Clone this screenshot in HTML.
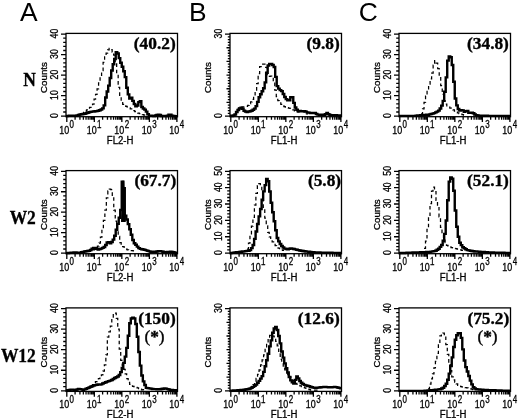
<!DOCTYPE html>
<html><head><meta charset="utf-8"><style>
html,body{margin:0;padding:0;background:#fff;}
svg{display:block;filter:grayscale(1);}
.t{stroke:#000;stroke-width:0.3px;}
.v{stroke:#000;stroke-width:0.35px;}
</style></head><body>
<svg width="520" height="418" viewBox="0 0 520 418">
<rect width="520" height="418" fill="#fff"/>
<text x="20.0" y="21.4" font-family="'Liberation Sans', sans-serif" font-size="26.4">A</text>
<text x="189.0" y="21.4" font-family="'Liberation Sans', sans-serif" font-size="26.4">B</text>
<text x="358.8" y="21.4" font-family="'Liberation Sans', sans-serif" font-size="26.4">C</text>
<text transform="translate(35.8,85.6) scale(0.98,1)" font-family="'Liberation Serif', serif" font-weight="bold" font-size="17.8" stroke="#000" stroke-width="0.3" text-anchor="end">N</text>
<path d="M61 116.1H66M63.2 112H66M63.2 107.9H66M63.2 103.8H66M63.2 99.7H66M61 95.6H66M63.2 91.5H66M63.2 87.4H66M63.2 83.3H66M63.2 79.2H66M61 75.1H66M63.2 71H66M63.2 66.9H66M63.2 62.8H66M63.2 58.7H66M61 54.6H66M63.2 50.5H66M63.2 46.4H66M63.2 42.3H66M63.2 38.2H66M61 34.1H66M66.8 116.7V122M75.09 116.7V119.7M79.93 116.7V119.7M83.37 116.7V119.7M86.04 116.7V119.7M88.22 116.7V119.7M90.06 116.7V119.7M91.66 116.7V119.7M93.07 116.7V119.7M94.33 116.7V122M102.61 116.7V119.7M107.46 116.7V119.7M110.9 116.7V119.7M113.56 116.7V119.7M115.74 116.7V119.7M117.59 116.7V119.7M119.18 116.7V119.7M120.59 116.7V119.7M121.85 116.7V122M130.14 116.7V119.7M134.98 116.7V119.7M138.42 116.7V119.7M141.09 116.7V119.7M143.27 116.7V119.7M145.11 116.7V119.7M146.71 116.7V119.7M148.12 116.7V119.7M149.38 116.7V122M157.66 116.7V119.7M162.51 116.7V119.7M165.95 116.7V119.7M168.61 116.7V119.7M170.79 116.7V119.7M172.64 116.7V119.7M174.23 116.7V119.7M175.64 116.7V119.7M176.9 116.7V122" stroke="#000" stroke-width="1.3" fill="none"/>
<rect x="66" y="33.4" width="111.5" height="83.3" fill="none" stroke="#000" stroke-width="1.3"/>
<text transform="translate(58,115.6) rotate(-90) scale(0.82,1)" font-family="'Liberation Sans', sans-serif" font-size="10.6" text-anchor="middle" class="t">0</text>
<text transform="translate(58,95.1) rotate(-90) scale(0.82,1)" font-family="'Liberation Sans', sans-serif" font-size="10.6" text-anchor="middle" class="t">10</text>
<text transform="translate(58,74.6) rotate(-90) scale(0.82,1)" font-family="'Liberation Sans', sans-serif" font-size="10.6" text-anchor="middle" class="t">20</text>
<text transform="translate(58,54.1) rotate(-90) scale(0.82,1)" font-family="'Liberation Sans', sans-serif" font-size="10.6" text-anchor="middle" class="t">30</text>
<text transform="translate(58,33.6) rotate(-90) scale(0.82,1)" font-family="'Liberation Sans', sans-serif" font-size="10.6" text-anchor="middle" class="t">40</text>
<text transform="translate(46.5,77.55) rotate(-90)" font-family="'Liberation Sans', sans-serif" font-size="9.7" text-anchor="middle" class="t">Counts</text>
<text x="59.2" y="133.5" font-family="'Liberation Sans', sans-serif" font-size="10" textLength="9.9" lengthAdjust="spacingAndGlyphs" class="t">10</text>
<text transform="translate(69.6,127.8) scale(0.8,1)" font-family="'Liberation Sans', sans-serif" font-size="10" class="t">0</text>
<text x="86.72" y="133.5" font-family="'Liberation Sans', sans-serif" font-size="10" textLength="9.9" lengthAdjust="spacingAndGlyphs" class="t">10</text>
<text transform="translate(97.12,127.8) scale(0.8,1)" font-family="'Liberation Sans', sans-serif" font-size="10" class="t">1</text>
<text x="114.25" y="133.5" font-family="'Liberation Sans', sans-serif" font-size="10" textLength="9.9" lengthAdjust="spacingAndGlyphs" class="t">10</text>
<text transform="translate(124.65,127.8) scale(0.8,1)" font-family="'Liberation Sans', sans-serif" font-size="10" class="t">2</text>
<text x="141.78" y="133.5" font-family="'Liberation Sans', sans-serif" font-size="10" textLength="9.9" lengthAdjust="spacingAndGlyphs" class="t">10</text>
<text transform="translate(152.18,127.8) scale(0.8,1)" font-family="'Liberation Sans', sans-serif" font-size="10" class="t">3</text>
<text x="169.3" y="133.5" font-family="'Liberation Sans', sans-serif" font-size="10" textLength="9.9" lengthAdjust="spacingAndGlyphs" class="t">10</text>
<text transform="translate(179.7,127.8) scale(0.8,1)" font-family="'Liberation Sans', sans-serif" font-size="10" class="t">4</text>
<text x="106.85" y="143.5" font-family="'Liberation Sans', sans-serif" font-size="10" textLength="26.6" lengthAdjust="spacingAndGlyphs" class="t">FL2-H</text>
<text transform="translate(175.7,49.3) scale(1.07,1)" font-family="'Liberation Serif', serif" font-weight="bold" font-size="16.2" text-anchor="end" class="v">(40.2)</text>
<path d="M82.00 113.99H83.51V112.49H85.01V111.16H86.52V109.94H88.03V108.72H89.53V107.36H91.04V105.85H92.55V104.21H94.06V99.05H95.56V94.26H97.07V88.84H98.58V82.89H100.08V76.93H101.59V70.73H103.10V62.38H104.60V56.77H106.11V53.04H107.62V49.91H109.13V48.40H110.63V49.54H112.14V52.06H113.65V55.13H115.15V62.78H116.66V73.87H118.17V87.27H119.67V96.28H121.18V101.74H122.69V104.27H124.20V105.72H125.70V106.42H127.21V107.12H128.72V107.81H130.22V108.76H131.73V109.73H133.24V110.70H134.74V111.66H136.25V112.61H137.76V113.22H139.27V113.68H140.77V114.14H142.28V114.59H143.79V115.13H145.29V115.66H146.80" fill="none" stroke="#000" stroke-width="1.25" stroke-dasharray="3.6 2.8"/>
<path d="M66.00 116.05H67.51V115.90H69.01V115.75H70.52V115.60H72.03V115.60H73.53V115.75H75.04V115.82H76.55V115.33H78.05V114.84H79.56V114.51H81.07V114.24H82.57V113.97H84.08V113.70H85.59V113.22H87.09V112.74H88.60V112.25H90.11V111.85H91.61V111.67H93.12V111.49H94.63V111.31H96.14V111.13H97.64V110.81H99.15V110.19H100.66V109.57H102.16V108.36H103.67V105.35H105.18V97.43H106.68V91.55H108.19V85.61H109.70V78.07H111.20V70.51H112.71V64.28H114.22V59.06H115.72V52.10H117.23V53.45H118.74V58.16H120.24V62.78H121.75V66.82H123.26V71.28H124.76V77.09H126.27V87.77H127.78V94.33H129.28V98.55H130.79V97.80H132.30V100.89H133.80V104.00H135.31V106.28H136.82V105.53H138.32V102.13H139.83V101.20H141.34V106.94H142.84V108.44H144.35V109.62H145.86V111.62H147.36V114.28H148.87V115.72H150.38V115.79H151.89V115.86H153.39V115.93H154.90V115.51H156.41V114.98H157.91V114.60H159.42V114.89H160.93V115.95H162.43V116.00H163.94V116.00H165.45V116.00H166.95V115.71H168.46V114.75H169.97V114.60H171.47V115.59H172.98V116.04H174.49V116.09H175.99V116.15H177.50" fill="none" stroke="#000" stroke-width="2.4"/>
<path d="M225 116.1H230M227.8 113.37H230M227.8 110.63H230M227.8 107.9H230M227.8 105.17H230M226.5 102.43H230M227.8 99.7H230M227.8 96.97H230M227.8 94.23H230M227.8 91.5H230M226.5 88.77H230M227.8 86.03H230M227.8 83.3H230M227.8 80.57H230M227.8 77.83H230M226.5 75.1H230M227.8 72.37H230M227.8 69.63H230M227.8 66.9H230M227.8 64.17H230M226.5 61.43H230M227.8 58.7H230M227.8 55.97H230M227.8 53.23H230M227.8 50.5H230M226.5 47.77H230M227.8 45.03H230M227.8 42.3H230M227.8 39.57H230M227.8 36.83H230M225 34.1H230M230.8 116.7V122M239.09 116.7V119.7M243.93 116.7V119.7M247.37 116.7V119.7M250.04 116.7V119.7M252.22 116.7V119.7M254.06 116.7V119.7M255.66 116.7V119.7M257.07 116.7V119.7M258.32 116.7V122M266.61 116.7V119.7M271.46 116.7V119.7M274.9 116.7V119.7M277.56 116.7V119.7M279.74 116.7V119.7M281.59 116.7V119.7M283.18 116.7V119.7M284.59 116.7V119.7M285.85 116.7V122M294.14 116.7V119.7M298.98 116.7V119.7M302.42 116.7V119.7M305.09 116.7V119.7M307.27 116.7V119.7M309.11 116.7V119.7M310.71 116.7V119.7M312.12 116.7V119.7M313.38 116.7V122M321.66 116.7V119.7M326.51 116.7V119.7M329.95 116.7V119.7M332.61 116.7V119.7M334.79 116.7V119.7M336.64 116.7V119.7M338.23 116.7V119.7M339.64 116.7V119.7M340.9 116.7V122" stroke="#000" stroke-width="1.3" fill="none"/>
<rect x="230" y="33.4" width="111.5" height="83.3" fill="none" stroke="#000" stroke-width="1.3"/>
<text transform="translate(222,115.6) rotate(-90) scale(0.82,1)" font-family="'Liberation Sans', sans-serif" font-size="10.6" text-anchor="middle" class="t">0</text>
<text transform="translate(222,33.6) rotate(-90) scale(0.82,1)" font-family="'Liberation Sans', sans-serif" font-size="10.6" text-anchor="middle" class="t">30</text>
<text transform="translate(210.5,77.55) rotate(-90)" font-family="'Liberation Sans', sans-serif" font-size="9.7" text-anchor="middle" class="t">Counts</text>
<text x="223.2" y="133.5" font-family="'Liberation Sans', sans-serif" font-size="10" textLength="9.9" lengthAdjust="spacingAndGlyphs" class="t">10</text>
<text transform="translate(233.6,127.8) scale(0.8,1)" font-family="'Liberation Sans', sans-serif" font-size="10" class="t">0</text>
<text x="250.72" y="133.5" font-family="'Liberation Sans', sans-serif" font-size="10" textLength="9.9" lengthAdjust="spacingAndGlyphs" class="t">10</text>
<text transform="translate(261.12,127.8) scale(0.8,1)" font-family="'Liberation Sans', sans-serif" font-size="10" class="t">1</text>
<text x="278.25" y="133.5" font-family="'Liberation Sans', sans-serif" font-size="10" textLength="9.9" lengthAdjust="spacingAndGlyphs" class="t">10</text>
<text transform="translate(288.65,127.8) scale(0.8,1)" font-family="'Liberation Sans', sans-serif" font-size="10" class="t">2</text>
<text x="305.78" y="133.5" font-family="'Liberation Sans', sans-serif" font-size="10" textLength="9.9" lengthAdjust="spacingAndGlyphs" class="t">10</text>
<text transform="translate(316.18,127.8) scale(0.8,1)" font-family="'Liberation Sans', sans-serif" font-size="10" class="t">3</text>
<text x="333.3" y="133.5" font-family="'Liberation Sans', sans-serif" font-size="10" textLength="9.9" lengthAdjust="spacingAndGlyphs" class="t">10</text>
<text transform="translate(343.7,127.8) scale(0.8,1)" font-family="'Liberation Sans', sans-serif" font-size="10" class="t">4</text>
<text x="270.85" y="143.5" font-family="'Liberation Sans', sans-serif" font-size="10" textLength="26.6" lengthAdjust="spacingAndGlyphs" class="t">FL1-H</text>
<text transform="translate(339.7,49.1) scale(1.07,1)" font-family="'Liberation Serif', serif" font-weight="bold" font-size="16.2" text-anchor="end" class="v">(9.8)</text>
<path d="M237.00 109.43H238.51V108.24H240.02V107.72H241.53V107.19H243.04V106.85H244.55V106.62H246.06V106.38H247.57V105.31H249.09V103.80H250.60V101.76H252.11V99.44H253.62V96.02H255.13V91.51H256.64V83.69H258.15V73.67H259.66V66.66H261.17V64.89H262.68V64.00H264.19V64.00H265.70V67.44H267.21V75.08H268.72V76.42H270.23V76.10H271.74V77.46H273.26V81.32H274.77V90.20H276.28V96.61H277.79V100.74H279.30V102.80H280.81V104.31H282.32V105.55H283.83V106.66H285.34V107.28H286.85V107.68H288.36V108.08H289.87V108.49H291.38V109.12H292.89V109.85H294.40V110.84H295.91V111.94H297.43V112.09H298.94V111.87H300.45V111.45H301.96V111.30H303.47V111.96H304.98V112.99H306.49V113.99H308.00" fill="none" stroke="#000" stroke-width="1.25" stroke-dasharray="3.6 2.8"/>
<path d="M230.00 115.80H231.51V115.95H233.01V115.34H234.52V114.56H236.03V112.07H237.53V110.06H239.04V108.55H240.55V107.80H242.05V108.78H243.56V110.75H245.07V111.53H246.57V111.95H248.08V111.60H249.59V111.20H251.09V110.80H252.60V109.69H254.11V108.58H255.61V106.09H257.12V101.84H258.63V97.23H260.14V94.22H261.64V91.24H263.15V88.29H264.66V82.35H266.16V72.76H267.67V65.49H269.18V64.00H270.68V64.00H272.19V64.94H273.70V66.99H275.20V76.87H276.71V86.15H278.22V88.63H279.72V90.17H281.23V91.15H282.74V94.01H284.24V96.99H285.75V99.17H287.26V100.27H288.76V100.40H290.27V97.25H291.78V97.20H293.28V102.86H294.79V107.47H296.30V109.71H297.80V110.88H299.31V111.06H300.82V111.23H302.32V111.30H303.83V111.30H305.34V111.62H306.84V112.37H308.35V112.66H309.86V112.94H311.36V113.00H312.87V113.00H314.38V113.00H315.89V113.93H317.39V114.63H318.90V114.69H320.41V114.76H321.91V114.82H323.42V114.89H324.93V114.28H326.43V113.00H327.94V114.23H329.45V115.04H330.95V115.10H332.46V115.15H333.97V115.21H335.47V115.27H336.98V115.33H338.49V115.38H339.99V115.44H341.50" fill="none" stroke="#000" stroke-width="2.4"/>
<path d="M394 116.1H399M396.2 112H399M396.2 107.9H399M396.2 103.8H399M396.2 99.7H399M394 95.6H399M396.2 91.5H399M396.2 87.4H399M396.2 83.3H399M396.2 79.2H399M394 75.1H399M396.2 71H399M396.2 66.9H399M396.2 62.8H399M396.2 58.7H399M394 54.6H399M396.2 50.5H399M396.2 46.4H399M396.2 42.3H399M396.2 38.2H399M394 34.1H399M399.8 116.7V122M408.09 116.7V119.7M412.93 116.7V119.7M416.37 116.7V119.7M419.04 116.7V119.7M421.22 116.7V119.7M423.06 116.7V119.7M424.66 116.7V119.7M426.07 116.7V119.7M427.32 116.7V122M435.61 116.7V119.7M440.46 116.7V119.7M443.9 116.7V119.7M446.56 116.7V119.7M448.74 116.7V119.7M450.59 116.7V119.7M452.18 116.7V119.7M453.59 116.7V119.7M454.85 116.7V122M463.14 116.7V119.7M467.98 116.7V119.7M471.42 116.7V119.7M474.09 116.7V119.7M476.27 116.7V119.7M478.11 116.7V119.7M479.71 116.7V119.7M481.12 116.7V119.7M482.38 116.7V122M490.66 116.7V119.7M495.51 116.7V119.7M498.95 116.7V119.7M501.61 116.7V119.7M503.79 116.7V119.7M505.64 116.7V119.7M507.23 116.7V119.7M508.64 116.7V119.7M509.9 116.7V122" stroke="#000" stroke-width="1.3" fill="none"/>
<rect x="399" y="33.4" width="111.5" height="83.3" fill="none" stroke="#000" stroke-width="1.3"/>
<text transform="translate(391,115.6) rotate(-90) scale(0.82,1)" font-family="'Liberation Sans', sans-serif" font-size="10.6" text-anchor="middle" class="t">0</text>
<text transform="translate(391,95.1) rotate(-90) scale(0.82,1)" font-family="'Liberation Sans', sans-serif" font-size="10.6" text-anchor="middle" class="t">10</text>
<text transform="translate(391,74.6) rotate(-90) scale(0.82,1)" font-family="'Liberation Sans', sans-serif" font-size="10.6" text-anchor="middle" class="t">20</text>
<text transform="translate(391,54.1) rotate(-90) scale(0.82,1)" font-family="'Liberation Sans', sans-serif" font-size="10.6" text-anchor="middle" class="t">30</text>
<text transform="translate(391,33.6) rotate(-90) scale(0.82,1)" font-family="'Liberation Sans', sans-serif" font-size="10.6" text-anchor="middle" class="t">40</text>
<text transform="translate(379.5,77.55) rotate(-90)" font-family="'Liberation Sans', sans-serif" font-size="9.7" text-anchor="middle" class="t">Counts</text>
<text x="392.2" y="133.5" font-family="'Liberation Sans', sans-serif" font-size="10" textLength="9.9" lengthAdjust="spacingAndGlyphs" class="t">10</text>
<text transform="translate(402.6,127.8) scale(0.8,1)" font-family="'Liberation Sans', sans-serif" font-size="10" class="t">0</text>
<text x="419.73" y="133.5" font-family="'Liberation Sans', sans-serif" font-size="10" textLength="9.9" lengthAdjust="spacingAndGlyphs" class="t">10</text>
<text transform="translate(430.12,127.8) scale(0.8,1)" font-family="'Liberation Sans', sans-serif" font-size="10" class="t">1</text>
<text x="447.25" y="133.5" font-family="'Liberation Sans', sans-serif" font-size="10" textLength="9.9" lengthAdjust="spacingAndGlyphs" class="t">10</text>
<text transform="translate(457.65,127.8) scale(0.8,1)" font-family="'Liberation Sans', sans-serif" font-size="10" class="t">2</text>
<text x="474.78" y="133.5" font-family="'Liberation Sans', sans-serif" font-size="10" textLength="9.9" lengthAdjust="spacingAndGlyphs" class="t">10</text>
<text transform="translate(485.18,127.8) scale(0.8,1)" font-family="'Liberation Sans', sans-serif" font-size="10" class="t">3</text>
<text x="502.3" y="133.5" font-family="'Liberation Sans', sans-serif" font-size="10" textLength="9.9" lengthAdjust="spacingAndGlyphs" class="t">10</text>
<text transform="translate(512.7,127.8) scale(0.8,1)" font-family="'Liberation Sans', sans-serif" font-size="10" class="t">4</text>
<text x="439.85" y="143.5" font-family="'Liberation Sans', sans-serif" font-size="10" textLength="26.6" lengthAdjust="spacingAndGlyphs" class="t">FL1-H</text>
<text transform="translate(508.9,48.6) scale(1.07,1)" font-family="'Liberation Serif', serif" font-weight="bold" font-size="16.2" text-anchor="end" class="v">(34.8)</text>
<path d="M421.00 113.98H422.52V108.95H424.03V102.25H425.55V96.08H427.07V89.92H428.59V84.11H430.10V78.96H431.62V73.20H433.14V65.19H434.66V60.60H436.17V63.06H437.69V68.59H439.21V76.48H440.72V85.71H442.24V94.40H443.76V100.93H445.28V104.03H446.79V105.97H448.31V107.11H449.83V108.14H451.34V109.07H452.86V109.99H454.38V111.06H455.90V112.16H457.41V112.97H458.93V113.57H460.45V114.18H461.97V114.62H463.48V115.06H465.00" fill="none" stroke="#000" stroke-width="1.25" stroke-dasharray="3.6 2.8"/>
<path d="M399.00 115.90H400.51V115.90H402.01V115.90H403.52V115.90H405.03V115.90H406.53V115.90H408.04V115.90H409.55V115.90H411.05V115.90H412.56V115.90H414.07V115.85H415.57V115.71H417.08V115.57H418.59V115.43H420.09V115.29H421.60V115.16H423.11V115.02H424.61V114.92H426.12V114.82H427.63V114.73H429.14V114.42H430.64V114.02H432.15V113.62H433.66V113.08H435.16V112.34H436.67V111.60H438.18V110.61H439.68V108.54H441.19V105.59H442.70V100.85H444.20V91.77H445.71V77.40H447.22V60.58H448.72V56.50H450.23V57.19H451.74V64.96H453.24V81.80H454.75V98.55H456.26V105.37H457.76V108.98H459.27V110.55H460.78V110.20H462.28V110.33H463.79V111.85H465.30V111.10H466.80V111.00H468.31V112.85H469.82V112.74H471.32V112.60H472.83V113.32H474.34V114.49H475.84V115.14H477.35V115.38H478.86V115.62H480.36V115.80H481.87V115.81H483.38V115.81H484.89V115.82H486.39V115.82H487.90V115.83H489.41V115.83H490.91V115.84H492.42V115.84H493.93V115.85H495.43V115.85H496.94V115.86H498.45V115.86H499.95V115.87H501.46V115.87H502.97V115.88H504.47V115.88H505.98V115.89H507.49V115.89H508.99V115.90H510.50" fill="none" stroke="#000" stroke-width="2.4"/>
<text transform="translate(35.8,223.9) scale(0.98,1)" font-family="'Liberation Serif', serif" font-weight="bold" font-size="17.8" stroke="#000" stroke-width="0.3" text-anchor="end">W2</text>
<path d="M61 253.1H66M63.2 249.01H66M63.2 244.92H66M63.2 240.83H66M63.2 236.74H66M61 232.65H66M63.2 228.56H66M63.2 224.47H66M63.2 220.38H66M63.2 216.29H66M61 212.2H66M63.2 208.11H66M63.2 204.02H66M63.2 199.93H66M63.2 195.84H66M61 191.75H66M63.2 187.66H66M63.2 183.57H66M63.2 179.48H66M63.2 175.39H66M61 171.3H66M66.8 253.7V259M75.09 253.7V256.7M79.93 253.7V256.7M83.37 253.7V256.7M86.04 253.7V256.7M88.22 253.7V256.7M90.06 253.7V256.7M91.66 253.7V256.7M93.07 253.7V256.7M94.33 253.7V259M102.61 253.7V256.7M107.46 253.7V256.7M110.9 253.7V256.7M113.56 253.7V256.7M115.74 253.7V256.7M117.59 253.7V256.7M119.18 253.7V256.7M120.59 253.7V256.7M121.85 253.7V259M130.14 253.7V256.7M134.98 253.7V256.7M138.42 253.7V256.7M141.09 253.7V256.7M143.27 253.7V256.7M145.11 253.7V256.7M146.71 253.7V256.7M148.12 253.7V256.7M149.38 253.7V259M157.66 253.7V256.7M162.51 253.7V256.7M165.95 253.7V256.7M168.61 253.7V256.7M170.79 253.7V256.7M172.64 253.7V256.7M174.23 253.7V256.7M175.64 253.7V256.7M176.9 253.7V259" stroke="#000" stroke-width="1.3" fill="none"/>
<rect x="66" y="170.6" width="111.5" height="83.1" fill="none" stroke="#000" stroke-width="1.3"/>
<text transform="translate(58,252.6) rotate(-90) scale(0.82,1)" font-family="'Liberation Sans', sans-serif" font-size="10.6" text-anchor="middle" class="t">0</text>
<text transform="translate(58,232.15) rotate(-90) scale(0.82,1)" font-family="'Liberation Sans', sans-serif" font-size="10.6" text-anchor="middle" class="t">10</text>
<text transform="translate(58,211.7) rotate(-90) scale(0.82,1)" font-family="'Liberation Sans', sans-serif" font-size="10.6" text-anchor="middle" class="t">20</text>
<text transform="translate(58,191.25) rotate(-90) scale(0.82,1)" font-family="'Liberation Sans', sans-serif" font-size="10.6" text-anchor="middle" class="t">30</text>
<text transform="translate(58,170.8) rotate(-90) scale(0.82,1)" font-family="'Liberation Sans', sans-serif" font-size="10.6" text-anchor="middle" class="t">40</text>
<text transform="translate(46.5,214.65) rotate(-90)" font-family="'Liberation Sans', sans-serif" font-size="9.7" text-anchor="middle" class="t">Counts</text>
<text x="59.2" y="270.5" font-family="'Liberation Sans', sans-serif" font-size="10" textLength="9.9" lengthAdjust="spacingAndGlyphs" class="t">10</text>
<text transform="translate(69.6,264.8) scale(0.8,1)" font-family="'Liberation Sans', sans-serif" font-size="10" class="t">0</text>
<text x="86.72" y="270.5" font-family="'Liberation Sans', sans-serif" font-size="10" textLength="9.9" lengthAdjust="spacingAndGlyphs" class="t">10</text>
<text transform="translate(97.12,264.8) scale(0.8,1)" font-family="'Liberation Sans', sans-serif" font-size="10" class="t">1</text>
<text x="114.25" y="270.5" font-family="'Liberation Sans', sans-serif" font-size="10" textLength="9.9" lengthAdjust="spacingAndGlyphs" class="t">10</text>
<text transform="translate(124.65,264.8) scale(0.8,1)" font-family="'Liberation Sans', sans-serif" font-size="10" class="t">2</text>
<text x="141.78" y="270.5" font-family="'Liberation Sans', sans-serif" font-size="10" textLength="9.9" lengthAdjust="spacingAndGlyphs" class="t">10</text>
<text transform="translate(152.18,264.8) scale(0.8,1)" font-family="'Liberation Sans', sans-serif" font-size="10" class="t">3</text>
<text x="169.3" y="270.5" font-family="'Liberation Sans', sans-serif" font-size="10" textLength="9.9" lengthAdjust="spacingAndGlyphs" class="t">10</text>
<text transform="translate(179.7,264.8) scale(0.8,1)" font-family="'Liberation Sans', sans-serif" font-size="10" class="t">4</text>
<text x="106.85" y="280.5" font-family="'Liberation Sans', sans-serif" font-size="10" textLength="26.6" lengthAdjust="spacingAndGlyphs" class="t">FL2-H</text>
<text transform="translate(176.3,186.3) scale(1.07,1)" font-family="'Liberation Serif', serif" font-weight="bold" font-size="16.2" text-anchor="end" class="v">(67.7)</text>
<polygon points="121,222 121.4,205 121.8,192 122,180.8 124.2,180.8 124.6,192 125.2,205 125.8,222" fill="#000"/>
<path d="M93.00 249.98H94.48V248.96H95.97V247.55H97.45V246.07H98.93V243.07H100.41V237.10H101.90V229.44H103.38V220.48H104.86V210.09H106.34V197.86H107.83V190.87H109.31V189.20H110.79V189.60H112.28V197.07H113.76V210.19H115.24V221.16H116.72V230.30H118.21V236.40H119.69V242.68H121.17V244.99H122.66V246.54H124.14V248.12H125.62V249.06H127.10V249.80H128.59V250.54H130.07V250.70H131.55V250.70H133.03V250.96H134.52V251.48H136.00" fill="none" stroke="#000" stroke-width="1.25" stroke-dasharray="3.6 2.8"/>
<path d="M66.00 253.08H67.51V252.97H69.01V252.85H70.52V252.73H72.03V252.61H73.53V252.50H75.04V252.50H76.55V252.65H78.05V252.81H79.56V252.70H81.07V252.28H82.57V251.86H84.08V251.51H85.59V251.26H87.09V251.02H88.60V250.78H90.11V249.93H91.61V248.79H93.12V247.90H94.63V248.06H96.14V248.79H97.64V249.43H99.15V249.07H100.66V248.61H102.16V247.84H103.67V247.07H105.18V244.96H106.68V242.48H108.19V242.30H109.70V243.20H111.20V241.97H112.71V239.59H114.22V235.71H115.72V229.76H117.23V223.87H118.74V217.80H120.24V210.07H121.75V181.70H123.26V188.08H124.76V215.67H126.27V219.51H127.78V224.15H129.28V229.24H130.79V234.82H132.30V239.98H133.80V243.30H135.31V244.81H136.82V246.65H138.32V248.15H139.83V248.87H141.34V249.23H142.84V249.50H144.35V249.91H145.86V250.40H147.36V250.89H148.87V251.39H150.38V251.80H151.89V251.80H153.39V251.80H154.90V251.71H156.41V251.51H157.91V251.30H159.42V251.20H160.93V251.40H162.43V251.81H163.94V252.22H165.45V252.19H166.95V252.05H168.46V251.92H169.97V251.80H171.47V251.84H172.98V252.21H174.49V252.58H175.99V252.91H177.50" fill="none" stroke="#000" stroke-width="2.4"/>
<path d="M225 253.1H230M227.2 249.83H230M227.2 246.56H230M227.2 243.28H230M227.2 240.01H230M225 236.74H230M227.2 233.47H230M227.2 230.2H230M227.2 226.92H230M227.2 223.65H230M225 220.38H230M227.2 217.11H230M227.2 213.84H230M227.2 210.56H230M227.2 207.29H230M225 204.02H230M227.2 200.75H230M227.2 197.48H230M227.2 194.2H230M227.2 190.93H230M225 187.66H230M227.2 184.39H230M227.2 181.12H230M227.2 177.84H230M227.2 174.57H230M225 171.3H230M230.8 253.7V259M239.09 253.7V256.7M243.93 253.7V256.7M247.37 253.7V256.7M250.04 253.7V256.7M252.22 253.7V256.7M254.06 253.7V256.7M255.66 253.7V256.7M257.07 253.7V256.7M258.32 253.7V259M266.61 253.7V256.7M271.46 253.7V256.7M274.9 253.7V256.7M277.56 253.7V256.7M279.74 253.7V256.7M281.59 253.7V256.7M283.18 253.7V256.7M284.59 253.7V256.7M285.85 253.7V259M294.14 253.7V256.7M298.98 253.7V256.7M302.42 253.7V256.7M305.09 253.7V256.7M307.27 253.7V256.7M309.11 253.7V256.7M310.71 253.7V256.7M312.12 253.7V256.7M313.38 253.7V259M321.66 253.7V256.7M326.51 253.7V256.7M329.95 253.7V256.7M332.61 253.7V256.7M334.79 253.7V256.7M336.64 253.7V256.7M338.23 253.7V256.7M339.64 253.7V256.7M340.9 253.7V259" stroke="#000" stroke-width="1.3" fill="none"/>
<rect x="230" y="170.6" width="111.5" height="83.1" fill="none" stroke="#000" stroke-width="1.3"/>
<text transform="translate(222,252.6) rotate(-90) scale(0.82,1)" font-family="'Liberation Sans', sans-serif" font-size="10.6" text-anchor="middle" class="t">0</text>
<text transform="translate(222,236.24) rotate(-90) scale(0.82,1)" font-family="'Liberation Sans', sans-serif" font-size="10.6" text-anchor="middle" class="t">10</text>
<text transform="translate(222,219.88) rotate(-90) scale(0.82,1)" font-family="'Liberation Sans', sans-serif" font-size="10.6" text-anchor="middle" class="t">20</text>
<text transform="translate(222,203.52) rotate(-90) scale(0.82,1)" font-family="'Liberation Sans', sans-serif" font-size="10.6" text-anchor="middle" class="t">30</text>
<text transform="translate(222,187.16) rotate(-90) scale(0.82,1)" font-family="'Liberation Sans', sans-serif" font-size="10.6" text-anchor="middle" class="t">40</text>
<text transform="translate(222,170.8) rotate(-90) scale(0.82,1)" font-family="'Liberation Sans', sans-serif" font-size="10.6" text-anchor="middle" class="t">50</text>
<text transform="translate(210.5,214.65) rotate(-90)" font-family="'Liberation Sans', sans-serif" font-size="9.7" text-anchor="middle" class="t">Counts</text>
<text x="223.2" y="270.5" font-family="'Liberation Sans', sans-serif" font-size="10" textLength="9.9" lengthAdjust="spacingAndGlyphs" class="t">10</text>
<text transform="translate(233.6,264.8) scale(0.8,1)" font-family="'Liberation Sans', sans-serif" font-size="10" class="t">0</text>
<text x="250.72" y="270.5" font-family="'Liberation Sans', sans-serif" font-size="10" textLength="9.9" lengthAdjust="spacingAndGlyphs" class="t">10</text>
<text transform="translate(261.12,264.8) scale(0.8,1)" font-family="'Liberation Sans', sans-serif" font-size="10" class="t">1</text>
<text x="278.25" y="270.5" font-family="'Liberation Sans', sans-serif" font-size="10" textLength="9.9" lengthAdjust="spacingAndGlyphs" class="t">10</text>
<text transform="translate(288.65,264.8) scale(0.8,1)" font-family="'Liberation Sans', sans-serif" font-size="10" class="t">2</text>
<text x="305.78" y="270.5" font-family="'Liberation Sans', sans-serif" font-size="10" textLength="9.9" lengthAdjust="spacingAndGlyphs" class="t">10</text>
<text transform="translate(316.18,264.8) scale(0.8,1)" font-family="'Liberation Sans', sans-serif" font-size="10" class="t">3</text>
<text x="333.3" y="270.5" font-family="'Liberation Sans', sans-serif" font-size="10" textLength="9.9" lengthAdjust="spacingAndGlyphs" class="t">10</text>
<text transform="translate(343.7,264.8) scale(0.8,1)" font-family="'Liberation Sans', sans-serif" font-size="10" class="t">4</text>
<text x="270.85" y="280.5" font-family="'Liberation Sans', sans-serif" font-size="10" textLength="26.6" lengthAdjust="spacingAndGlyphs" class="t">FL1-H</text>
<text transform="translate(341.1,186.3) scale(1.07,1)" font-family="'Liberation Serif', serif" font-weight="bold" font-size="16.2" text-anchor="end" class="v">(5.8)</text>
<path d="M247.00 249.16H248.48V243.14H249.96V234.99H251.44V226.01H252.92V217.35H254.40V205.07H255.88V193.44H257.36V185.61H258.84V183.70H260.32V185.67H261.80V191.86H263.28V208.45H264.76V218.10H266.24V225.96H267.72V232.38H269.20V236.90H270.68V239.40H272.16V241.87H273.64V243.70H275.12V245.52H276.60V247.06H278.08V248.19H279.56V249.32H281.04V249.94H282.52V250.47H284.00" fill="none" stroke="#000" stroke-width="1.25" stroke-dasharray="3.6 2.8"/>
<path d="M230.00 253.02H231.51V252.84H233.01V252.66H234.52V252.48H236.03V252.30H237.53V252.12H239.04V251.93H240.55V251.75H242.05V251.57H243.56V251.39H245.07V251.16H246.57V250.92H248.08V250.69H249.59V250.10H251.09V248.08H252.60V244.95H254.11V238.83H255.61V231.52H257.12V223.95H258.63V216.42H260.14V208.93H261.64V199.73H263.15V191.41H264.66V185.16H266.16V178.90H267.67V181.28H269.18V191.46H270.68V202.77H272.19V212.32H273.70V221.24H275.20V230.23H276.71V237.93H278.22V241.40H279.72V243.96H281.23V246.03H282.74V247.54H284.24V248.64H285.75V249.03H287.26V249.19H288.76V248.80H290.27V248.50H291.78V248.60H293.28V248.98H294.79V249.37H296.30V249.76H297.80V250.14H299.31V250.52H300.82V250.75H302.32V250.98H303.83V251.22H305.34V251.44H306.84V251.60H308.35V251.77H309.86V251.93H311.36V252.10H312.87V252.27H314.38V252.43H315.89V252.52H317.39V252.55H318.90V252.57H320.41V252.60H321.91V252.63H323.42V252.66H324.93V252.69H326.43V252.72H327.94V252.74H329.45V252.77H330.95V252.80H332.46V252.83H333.97V252.86H335.47V252.89H336.98V252.91H338.49V252.94H339.99V252.97H341.50" fill="none" stroke="#000" stroke-width="2.4"/>
<path d="M394 253.1H399M396.2 249.83H399M396.2 246.56H399M396.2 243.28H399M396.2 240.01H399M394 236.74H399M396.2 233.47H399M396.2 230.2H399M396.2 226.92H399M396.2 223.65H399M394 220.38H399M396.2 217.11H399M396.2 213.84H399M396.2 210.56H399M396.2 207.29H399M394 204.02H399M396.2 200.75H399M396.2 197.48H399M396.2 194.2H399M396.2 190.93H399M394 187.66H399M396.2 184.39H399M396.2 181.12H399M396.2 177.84H399M396.2 174.57H399M394 171.3H399M399.8 253.7V259M408.09 253.7V256.7M412.93 253.7V256.7M416.37 253.7V256.7M419.04 253.7V256.7M421.22 253.7V256.7M423.06 253.7V256.7M424.66 253.7V256.7M426.07 253.7V256.7M427.32 253.7V259M435.61 253.7V256.7M440.46 253.7V256.7M443.9 253.7V256.7M446.56 253.7V256.7M448.74 253.7V256.7M450.59 253.7V256.7M452.18 253.7V256.7M453.59 253.7V256.7M454.85 253.7V259M463.14 253.7V256.7M467.98 253.7V256.7M471.42 253.7V256.7M474.09 253.7V256.7M476.27 253.7V256.7M478.11 253.7V256.7M479.71 253.7V256.7M481.12 253.7V256.7M482.38 253.7V259M490.66 253.7V256.7M495.51 253.7V256.7M498.95 253.7V256.7M501.61 253.7V256.7M503.79 253.7V256.7M505.64 253.7V256.7M507.23 253.7V256.7M508.64 253.7V256.7M509.9 253.7V259" stroke="#000" stroke-width="1.3" fill="none"/>
<rect x="399" y="170.6" width="111.5" height="83.1" fill="none" stroke="#000" stroke-width="1.3"/>
<text transform="translate(391,252.6) rotate(-90) scale(0.82,1)" font-family="'Liberation Sans', sans-serif" font-size="10.6" text-anchor="middle" class="t">0</text>
<text transform="translate(391,236.24) rotate(-90) scale(0.82,1)" font-family="'Liberation Sans', sans-serif" font-size="10.6" text-anchor="middle" class="t">10</text>
<text transform="translate(391,219.88) rotate(-90) scale(0.82,1)" font-family="'Liberation Sans', sans-serif" font-size="10.6" text-anchor="middle" class="t">20</text>
<text transform="translate(391,203.52) rotate(-90) scale(0.82,1)" font-family="'Liberation Sans', sans-serif" font-size="10.6" text-anchor="middle" class="t">30</text>
<text transform="translate(391,187.16) rotate(-90) scale(0.82,1)" font-family="'Liberation Sans', sans-serif" font-size="10.6" text-anchor="middle" class="t">40</text>
<text transform="translate(391,170.8) rotate(-90) scale(0.82,1)" font-family="'Liberation Sans', sans-serif" font-size="10.6" text-anchor="middle" class="t">50</text>
<text transform="translate(379.5,214.65) rotate(-90)" font-family="'Liberation Sans', sans-serif" font-size="9.7" text-anchor="middle" class="t">Counts</text>
<text x="392.2" y="270.5" font-family="'Liberation Sans', sans-serif" font-size="10" textLength="9.9" lengthAdjust="spacingAndGlyphs" class="t">10</text>
<text transform="translate(402.6,264.8) scale(0.8,1)" font-family="'Liberation Sans', sans-serif" font-size="10" class="t">0</text>
<text x="419.73" y="270.5" font-family="'Liberation Sans', sans-serif" font-size="10" textLength="9.9" lengthAdjust="spacingAndGlyphs" class="t">10</text>
<text transform="translate(430.12,264.8) scale(0.8,1)" font-family="'Liberation Sans', sans-serif" font-size="10" class="t">1</text>
<text x="447.25" y="270.5" font-family="'Liberation Sans', sans-serif" font-size="10" textLength="9.9" lengthAdjust="spacingAndGlyphs" class="t">10</text>
<text transform="translate(457.65,264.8) scale(0.8,1)" font-family="'Liberation Sans', sans-serif" font-size="10" class="t">2</text>
<text x="474.78" y="270.5" font-family="'Liberation Sans', sans-serif" font-size="10" textLength="9.9" lengthAdjust="spacingAndGlyphs" class="t">10</text>
<text transform="translate(485.18,264.8) scale(0.8,1)" font-family="'Liberation Sans', sans-serif" font-size="10" class="t">3</text>
<text x="502.3" y="270.5" font-family="'Liberation Sans', sans-serif" font-size="10" textLength="9.9" lengthAdjust="spacingAndGlyphs" class="t">10</text>
<text transform="translate(512.7,264.8) scale(0.8,1)" font-family="'Liberation Sans', sans-serif" font-size="10" class="t">4</text>
<text x="439.85" y="280.5" font-family="'Liberation Sans', sans-serif" font-size="10" textLength="26.6" lengthAdjust="spacingAndGlyphs" class="t">FL1-H</text>
<text transform="translate(508.9,186.3) scale(1.07,1)" font-family="'Liberation Serif', serif" font-weight="bold" font-size="16.2" text-anchor="end" class="v">(52.1)</text>
<path d="M424.00 248.40H425.50V241.10H427.00V229.30H428.50V216.74H430.00V203.60H431.50V191.11H433.00V187.20H434.50V191.50H436.00V200.36H437.50V207.63H439.00V216.76H440.50V227.35H442.00V234.21H443.50V238.93H445.00V242.66H446.50V245.45H448.00V246.18H449.50V246.91H451.00V247.58H452.50V247.96H454.00V248.34H455.50V248.73H457.00V249.11H458.50V249.50H460.00V249.95H461.50V250.47H463.00" fill="none" stroke="#000" stroke-width="1.25" stroke-dasharray="3.6 2.8"/>
<path d="M399.00 253.14H400.51V253.07H402.01V253.01H403.52V252.95H405.03V252.88H406.53V252.82H408.04V252.76H409.55V252.69H411.05V252.63H412.56V252.57H414.07V252.50H415.57V252.44H417.08V252.38H418.59V252.34H420.09V252.30H421.60V252.25H423.11V252.21H424.61V252.13H426.12V252.03H427.63V251.94H429.14V251.84H430.64V251.64H432.15V251.36H433.66V251.08H435.16V250.81H436.67V249.79H438.18V248.75H439.68V246.92H441.19V244.96H442.70V240.72H444.20V233.85H445.71V220.49H447.22V200.25H448.72V181.62H450.23V177.50H451.74V178.81H453.24V190.69H454.75V210.53H456.26V226.76H457.76V236.80H459.27V242.69H460.78V245.11H462.28V247.20H463.79V248.28H465.30V249.19H466.80V250.10H468.31V250.40H469.82V250.70H471.32V251.00H472.83V251.31H474.34V251.47H475.84V251.57H477.35V251.67H478.86V251.77H480.36V251.87H481.87V251.96H483.38V252.06H484.89V252.16H486.39V252.26H487.90V252.36H489.41V252.46H490.91V252.52H492.42V252.56H493.93V252.60H495.43V252.63H496.94V252.67H498.45V252.71H499.95V252.74H501.46V252.78H502.97V252.82H504.47V252.85H505.98V252.89H507.49V252.93H508.99V252.96H510.50" fill="none" stroke="#000" stroke-width="2.4"/>
<text transform="translate(35.8,361.9) scale(0.98,1)" font-family="'Liberation Serif', serif" font-weight="bold" font-size="17.8" stroke="#000" stroke-width="0.3" text-anchor="end">W12</text>
<path d="M61 390.8H66M63.2 386.69H66M63.2 382.58H66M63.2 378.47H66M63.2 374.36H66M61 370.25H66M63.2 366.14H66M63.2 362.03H66M63.2 357.92H66M63.2 353.81H66M61 349.7H66M63.2 345.59H66M63.2 341.48H66M63.2 337.37H66M63.2 333.26H66M61 329.15H66M63.2 325.04H66M63.2 320.93H66M63.2 316.82H66M63.2 312.71H66M61 308.6H66M66.8 391.4V396.7M75.09 391.4V394.4M79.93 391.4V394.4M83.37 391.4V394.4M86.04 391.4V394.4M88.22 391.4V394.4M90.06 391.4V394.4M91.66 391.4V394.4M93.07 391.4V394.4M94.33 391.4V396.7M102.61 391.4V394.4M107.46 391.4V394.4M110.9 391.4V394.4M113.56 391.4V394.4M115.74 391.4V394.4M117.59 391.4V394.4M119.18 391.4V394.4M120.59 391.4V394.4M121.85 391.4V396.7M130.14 391.4V394.4M134.98 391.4V394.4M138.42 391.4V394.4M141.09 391.4V394.4M143.27 391.4V394.4M145.11 391.4V394.4M146.71 391.4V394.4M148.12 391.4V394.4M149.38 391.4V396.7M157.66 391.4V394.4M162.51 391.4V394.4M165.95 391.4V394.4M168.61 391.4V394.4M170.79 391.4V394.4M172.64 391.4V394.4M174.23 391.4V394.4M175.64 391.4V394.4M176.9 391.4V396.7" stroke="#000" stroke-width="1.3" fill="none"/>
<rect x="66" y="307.9" width="111.5" height="83.5" fill="none" stroke="#000" stroke-width="1.3"/>
<text transform="translate(58,390.3) rotate(-90) scale(0.82,1)" font-family="'Liberation Sans', sans-serif" font-size="10.6" text-anchor="middle" class="t">0</text>
<text transform="translate(58,369.75) rotate(-90) scale(0.82,1)" font-family="'Liberation Sans', sans-serif" font-size="10.6" text-anchor="middle" class="t">10</text>
<text transform="translate(58,349.2) rotate(-90) scale(0.82,1)" font-family="'Liberation Sans', sans-serif" font-size="10.6" text-anchor="middle" class="t">20</text>
<text transform="translate(58,328.65) rotate(-90) scale(0.82,1)" font-family="'Liberation Sans', sans-serif" font-size="10.6" text-anchor="middle" class="t">30</text>
<text transform="translate(58,308.1) rotate(-90) scale(0.82,1)" font-family="'Liberation Sans', sans-serif" font-size="10.6" text-anchor="middle" class="t">40</text>
<text transform="translate(46.5,352.15) rotate(-90)" font-family="'Liberation Sans', sans-serif" font-size="9.7" text-anchor="middle" class="t">Counts</text>
<text x="59.2" y="408.2" font-family="'Liberation Sans', sans-serif" font-size="10" textLength="9.9" lengthAdjust="spacingAndGlyphs" class="t">10</text>
<text transform="translate(69.6,402.5) scale(0.8,1)" font-family="'Liberation Sans', sans-serif" font-size="10" class="t">0</text>
<text x="86.72" y="408.2" font-family="'Liberation Sans', sans-serif" font-size="10" textLength="9.9" lengthAdjust="spacingAndGlyphs" class="t">10</text>
<text transform="translate(97.12,402.5) scale(0.8,1)" font-family="'Liberation Sans', sans-serif" font-size="10" class="t">1</text>
<text x="114.25" y="408.2" font-family="'Liberation Sans', sans-serif" font-size="10" textLength="9.9" lengthAdjust="spacingAndGlyphs" class="t">10</text>
<text transform="translate(124.65,402.5) scale(0.8,1)" font-family="'Liberation Sans', sans-serif" font-size="10" class="t">2</text>
<text x="141.78" y="408.2" font-family="'Liberation Sans', sans-serif" font-size="10" textLength="9.9" lengthAdjust="spacingAndGlyphs" class="t">10</text>
<text transform="translate(152.18,402.5) scale(0.8,1)" font-family="'Liberation Sans', sans-serif" font-size="10" class="t">3</text>
<text x="169.3" y="408.2" font-family="'Liberation Sans', sans-serif" font-size="10" textLength="9.9" lengthAdjust="spacingAndGlyphs" class="t">10</text>
<text transform="translate(179.7,402.5) scale(0.8,1)" font-family="'Liberation Sans', sans-serif" font-size="10" class="t">4</text>
<text x="106.85" y="418.2" font-family="'Liberation Sans', sans-serif" font-size="10" textLength="26.6" lengthAdjust="spacingAndGlyphs" class="t">FL2-H</text>
<text transform="translate(175.7,323.6) scale(1.07,1)" font-family="'Liberation Serif', serif" font-weight="bold" font-size="16.2" text-anchor="end" class="v">(150)</text>
<text transform="translate(154.5,342.2) scale(1.07,1)" font-family="'Liberation Serif', serif" font-size="16.2" text-anchor="middle" class="v">(<tspan font-weight="bold">*</tspan>)</text>
<path d="M88.00 388.40H89.49V387.31H90.97V386.05H92.46V384.60H93.95V383.15H95.44V381.68H96.92V380.19H98.41V378.70H99.90V376.91H101.38V374.91H102.87V371.10H104.36V364.89H105.85V354.85H107.33V337.20H108.82V331.95H110.31V326.05H111.79V317.84H113.28V313.66H114.77V313.00H116.26V318.32H117.74V329.10H119.23V349.16H120.72V360.38H122.21V365.66H123.69V369.48H125.18V373.80H126.67V378.66H128.15V382.31H129.64V384.31H131.13V385.78H132.62V386.28H134.10V386.79H135.59V387.29H137.08V387.79H138.56V388.52H140.05V389.24H141.54V389.76H143.03V389.63H144.51V389.50H146.00" fill="none" stroke="#000" stroke-width="1.25" stroke-dasharray="3.6 2.8"/>
<path d="M66.00 390.35H67.51V390.10H69.01V389.85H70.52V389.60H72.03V389.61H73.53V389.91H75.04V390.14H76.55V389.44H78.05V389.00H79.56V389.11H81.07V389.41H82.57V389.71H84.08V389.36H85.59V388.76H87.09V388.11H88.60V387.45H90.11V386.78H91.61V386.20H93.12V385.64H94.63V385.16H96.14V384.70H97.64V384.50H99.15V384.66H100.66V384.35H102.16V383.52H103.67V382.86H105.18V382.24H106.68V381.65H108.19V381.10H109.70V380.58H111.20V379.93H112.71V378.94H114.22V377.99H115.72V377.22H117.23V376.44H118.74V375.03H120.24V372.09H121.75V367.94H123.26V362.87H124.76V356.62H126.27V347.84H127.78V335.71H129.28V323.27H130.79V318.50H132.30V317.80H133.80V318.39H135.31V324.04H136.82V336.73H138.32V351.94H139.83V365.63H141.34V375.51H142.84V381.40H144.35V385.00H145.86V387.83H147.36V388.11H148.87V388.39H150.38V388.66H151.89V388.94H153.39V389.08H154.90V389.17H156.41V389.27H157.91V389.37H159.42V389.31H160.93V389.01H162.43V388.71H163.94V388.50H165.45V388.63H166.95V389.09H168.46V389.54H169.97V389.99H171.47V390.04H172.98V390.08H174.49V390.12H175.99V390.16H177.50" fill="none" stroke="#000" stroke-width="2.4"/>
<path d="M225 390.8H230M227.8 388.06H230M227.8 385.32H230M227.8 382.58H230M227.8 379.84H230M226.5 377.1H230M227.8 374.36H230M227.8 371.62H230M227.8 368.88H230M227.8 366.14H230M226.5 363.4H230M227.8 360.66H230M227.8 357.92H230M227.8 355.18H230M227.8 352.44H230M226.5 349.7H230M227.8 346.96H230M227.8 344.22H230M227.8 341.48H230M227.8 338.74H230M226.5 336H230M227.8 333.26H230M227.8 330.52H230M227.8 327.78H230M227.8 325.04H230M226.5 322.3H230M227.8 319.56H230M227.8 316.82H230M227.8 314.08H230M227.8 311.34H230M225 308.6H230M230.8 391.4V396.7M239.09 391.4V394.4M243.93 391.4V394.4M247.37 391.4V394.4M250.04 391.4V394.4M252.22 391.4V394.4M254.06 391.4V394.4M255.66 391.4V394.4M257.07 391.4V394.4M258.32 391.4V396.7M266.61 391.4V394.4M271.46 391.4V394.4M274.9 391.4V394.4M277.56 391.4V394.4M279.74 391.4V394.4M281.59 391.4V394.4M283.18 391.4V394.4M284.59 391.4V394.4M285.85 391.4V396.7M294.14 391.4V394.4M298.98 391.4V394.4M302.42 391.4V394.4M305.09 391.4V394.4M307.27 391.4V394.4M309.11 391.4V394.4M310.71 391.4V394.4M312.12 391.4V394.4M313.38 391.4V396.7M321.66 391.4V394.4M326.51 391.4V394.4M329.95 391.4V394.4M332.61 391.4V394.4M334.79 391.4V394.4M336.64 391.4V394.4M338.23 391.4V394.4M339.64 391.4V394.4M340.9 391.4V396.7" stroke="#000" stroke-width="1.3" fill="none"/>
<rect x="230" y="307.9" width="111.5" height="83.5" fill="none" stroke="#000" stroke-width="1.3"/>
<text transform="translate(222,390.3) rotate(-90) scale(0.82,1)" font-family="'Liberation Sans', sans-serif" font-size="10.6" text-anchor="middle" class="t">0</text>
<text transform="translate(222,308.1) rotate(-90) scale(0.82,1)" font-family="'Liberation Sans', sans-serif" font-size="10.6" text-anchor="middle" class="t">30</text>
<text transform="translate(210.5,352.15) rotate(-90)" font-family="'Liberation Sans', sans-serif" font-size="9.7" text-anchor="middle" class="t">Counts</text>
<text x="223.2" y="408.2" font-family="'Liberation Sans', sans-serif" font-size="10" textLength="9.9" lengthAdjust="spacingAndGlyphs" class="t">10</text>
<text transform="translate(233.6,402.5) scale(0.8,1)" font-family="'Liberation Sans', sans-serif" font-size="10" class="t">0</text>
<text x="250.72" y="408.2" font-family="'Liberation Sans', sans-serif" font-size="10" textLength="9.9" lengthAdjust="spacingAndGlyphs" class="t">10</text>
<text transform="translate(261.12,402.5) scale(0.8,1)" font-family="'Liberation Sans', sans-serif" font-size="10" class="t">1</text>
<text x="278.25" y="408.2" font-family="'Liberation Sans', sans-serif" font-size="10" textLength="9.9" lengthAdjust="spacingAndGlyphs" class="t">10</text>
<text transform="translate(288.65,402.5) scale(0.8,1)" font-family="'Liberation Sans', sans-serif" font-size="10" class="t">2</text>
<text x="305.78" y="408.2" font-family="'Liberation Sans', sans-serif" font-size="10" textLength="9.9" lengthAdjust="spacingAndGlyphs" class="t">10</text>
<text transform="translate(316.18,402.5) scale(0.8,1)" font-family="'Liberation Sans', sans-serif" font-size="10" class="t">3</text>
<text x="333.3" y="408.2" font-family="'Liberation Sans', sans-serif" font-size="10" textLength="9.9" lengthAdjust="spacingAndGlyphs" class="t">10</text>
<text transform="translate(343.7,402.5) scale(0.8,1)" font-family="'Liberation Sans', sans-serif" font-size="10" class="t">4</text>
<text x="270.85" y="418.2" font-family="'Liberation Sans', sans-serif" font-size="10" textLength="26.6" lengthAdjust="spacingAndGlyphs" class="t">FL1-H</text>
<text transform="translate(339.7,323.6) scale(1.07,1)" font-family="'Liberation Serif', serif" font-weight="bold" font-size="16.2" text-anchor="end" class="v">(12.6)</text>
<path d="M250.00 388.44H251.51V386.72H253.02V384.69H254.53V381.66H256.04V378.36H257.56V374.35H259.07V369.87H260.58V364.94H262.09V359.92H263.60V354.85H265.11V348.63H266.62V342.71H268.13V338.26H269.64V335.32H271.16V334.80H272.67V336.17H274.18V338.26H275.69V341.28H277.20V345.81H278.71V352.32H280.22V359.27H281.73V363.34H283.24V366.89H284.76V369.91H286.27V372.37H287.78V374.65H289.29V376.75H290.80V378.60H292.31V380.41H293.82V381.92H295.33V383.43H296.84V384.31H298.36V385.05H299.87V385.79H301.38V386.50H302.89V387.12H304.40V387.75H305.91V388.36H307.42V388.97H308.93V389.57H310.44V390.00H311.96V390.00H313.47V390.00H314.98V390.00H316.49V390.00H318.00" fill="none" stroke="#000" stroke-width="1.25" stroke-dasharray="3.6 2.8"/>
<path d="M230.00 390.79H231.51V390.68H233.01V390.57H234.52V390.46H236.03V390.35H237.53V390.24H239.04V390.13H240.55V390.02H242.05V389.91H243.56V389.79H245.07V389.53H246.57V389.27H248.08V389.01H249.59V388.47H251.09V387.73H252.60V386.90H254.11V385.78H255.61V384.66H257.12V382.80H258.63V380.91H260.14V378.64H261.64V376.15H263.15V371.91H264.66V366.23H266.16V360.27H267.67V353.72H269.18V346.41H270.68V340.39H272.19V332.76H273.70V328.51H275.20V327.00H276.71V330.01H278.22V335.97H279.72V343.42H281.23V351.47H282.74V357.61H284.24V363.38H285.75V368.12H287.26V372.53H288.76V377.05H290.27V380.34H291.78V382.37H293.28V383.62H294.79V379.90H296.30V376.50H297.80V378.38H299.31V380.97H300.82V382.78H302.32V383.88H303.83V384.89H305.34V385.33H306.84V385.71H308.35V386.13H309.86V386.70H311.36V387.26H312.87V387.61H314.38V387.80H315.89V387.83H317.39V387.64H318.90V387.46H320.41V387.31H321.91V387.16H323.42V387.01H324.93V387.00H326.43V387.14H327.94V387.29H329.45V387.40H330.95V387.25H332.46V387.10H333.97V387.00H335.47V387.12H336.98V387.49H338.49V387.87H339.99V388.20H341.50" fill="none" stroke="#000" stroke-width="2.4"/>
<path d="M394 390.8H399M396.2 386.69H399M396.2 382.58H399M396.2 378.47H399M396.2 374.36H399M394 370.25H399M396.2 366.14H399M396.2 362.03H399M396.2 357.92H399M396.2 353.81H399M394 349.7H399M396.2 345.59H399M396.2 341.48H399M396.2 337.37H399M396.2 333.26H399M394 329.15H399M396.2 325.04H399M396.2 320.93H399M396.2 316.82H399M396.2 312.71H399M394 308.6H399M399.8 391.4V396.7M408.09 391.4V394.4M412.93 391.4V394.4M416.37 391.4V394.4M419.04 391.4V394.4M421.22 391.4V394.4M423.06 391.4V394.4M424.66 391.4V394.4M426.07 391.4V394.4M427.32 391.4V396.7M435.61 391.4V394.4M440.46 391.4V394.4M443.9 391.4V394.4M446.56 391.4V394.4M448.74 391.4V394.4M450.59 391.4V394.4M452.18 391.4V394.4M453.59 391.4V394.4M454.85 391.4V396.7M463.14 391.4V394.4M467.98 391.4V394.4M471.42 391.4V394.4M474.09 391.4V394.4M476.27 391.4V394.4M478.11 391.4V394.4M479.71 391.4V394.4M481.12 391.4V394.4M482.38 391.4V396.7M490.66 391.4V394.4M495.51 391.4V394.4M498.95 391.4V394.4M501.61 391.4V394.4M503.79 391.4V394.4M505.64 391.4V394.4M507.23 391.4V394.4M508.64 391.4V394.4M509.9 391.4V396.7" stroke="#000" stroke-width="1.3" fill="none"/>
<rect x="399" y="307.9" width="111.5" height="83.5" fill="none" stroke="#000" stroke-width="1.3"/>
<text transform="translate(391,390.3) rotate(-90) scale(0.82,1)" font-family="'Liberation Sans', sans-serif" font-size="10.6" text-anchor="middle" class="t">0</text>
<text transform="translate(391,369.75) rotate(-90) scale(0.82,1)" font-family="'Liberation Sans', sans-serif" font-size="10.6" text-anchor="middle" class="t">10</text>
<text transform="translate(391,349.2) rotate(-90) scale(0.82,1)" font-family="'Liberation Sans', sans-serif" font-size="10.6" text-anchor="middle" class="t">20</text>
<text transform="translate(391,328.65) rotate(-90) scale(0.82,1)" font-family="'Liberation Sans', sans-serif" font-size="10.6" text-anchor="middle" class="t">30</text>
<text transform="translate(391,308.1) rotate(-90) scale(0.82,1)" font-family="'Liberation Sans', sans-serif" font-size="10.6" text-anchor="middle" class="t">40</text>
<text transform="translate(379.5,352.15) rotate(-90)" font-family="'Liberation Sans', sans-serif" font-size="9.7" text-anchor="middle" class="t">Counts</text>
<text x="392.2" y="408.2" font-family="'Liberation Sans', sans-serif" font-size="10" textLength="9.9" lengthAdjust="spacingAndGlyphs" class="t">10</text>
<text transform="translate(402.6,402.5) scale(0.8,1)" font-family="'Liberation Sans', sans-serif" font-size="10" class="t">0</text>
<text x="419.73" y="408.2" font-family="'Liberation Sans', sans-serif" font-size="10" textLength="9.9" lengthAdjust="spacingAndGlyphs" class="t">10</text>
<text transform="translate(430.12,402.5) scale(0.8,1)" font-family="'Liberation Sans', sans-serif" font-size="10" class="t">1</text>
<text x="447.25" y="408.2" font-family="'Liberation Sans', sans-serif" font-size="10" textLength="9.9" lengthAdjust="spacingAndGlyphs" class="t">10</text>
<text transform="translate(457.65,402.5) scale(0.8,1)" font-family="'Liberation Sans', sans-serif" font-size="10" class="t">2</text>
<text x="474.78" y="408.2" font-family="'Liberation Sans', sans-serif" font-size="10" textLength="9.9" lengthAdjust="spacingAndGlyphs" class="t">10</text>
<text transform="translate(485.18,402.5) scale(0.8,1)" font-family="'Liberation Sans', sans-serif" font-size="10" class="t">3</text>
<text x="502.3" y="408.2" font-family="'Liberation Sans', sans-serif" font-size="10" textLength="9.9" lengthAdjust="spacingAndGlyphs" class="t">10</text>
<text transform="translate(512.7,402.5) scale(0.8,1)" font-family="'Liberation Sans', sans-serif" font-size="10" class="t">4</text>
<text x="439.85" y="418.2" font-family="'Liberation Sans', sans-serif" font-size="10" textLength="26.6" lengthAdjust="spacingAndGlyphs" class="t">FL1-H</text>
<text transform="translate(509.3,323.6) scale(1.07,1)" font-family="'Liberation Serif', serif" font-weight="bold" font-size="16.2" text-anchor="end" class="v">(75.2)</text>
<text transform="translate(487.5,342.2) scale(1.07,1)" font-family="'Liberation Serif', serif" font-size="16.2" text-anchor="middle" class="v">(<tspan font-weight="bold">*</tspan>)</text>
<path d="M428.00 388.75H429.48V384.06H430.97V378.99H432.45V373.81H433.94V367.98H435.42V361.45H436.90V353.49H438.39V343.54H439.87V335.78H441.35V333.18H442.84V333.10H444.32V335.52H445.81V344.72H447.29V354.32H448.77V363.64H450.26V370.74H451.74V376.76H453.23V379.79H454.71V382.32H456.19V383.85H457.68V385.29H459.16V386.01H460.65V386.72H462.13V387.07H463.61V387.36H465.10V387.66H466.58V387.95H468.06V388.24H469.55V388.60H471.03V389.07H472.52V389.53H474.00" fill="none" stroke="#000" stroke-width="1.25" stroke-dasharray="3.6 2.8"/>
<path d="M399.00 390.90H400.51V390.90H402.01V390.90H403.52V390.90H405.03V390.90H406.53V390.90H408.04V390.90H409.55V390.90H411.05V390.90H412.56V390.90H414.07V390.90H415.57V390.90H417.08V390.90H418.59V390.90H420.09V390.90H421.60V390.90H423.11V390.90H424.61V390.80H426.12V390.66H427.63V390.52H429.14V390.38H430.64V390.24H432.15V390.11H433.66V389.96H435.16V389.77H436.67V389.58H438.18V389.40H439.68V389.21H441.19V388.50H442.70V387.75H444.20V386.00H445.71V383.76H447.22V379.80H448.72V373.65H450.23V366.02H451.74V357.38H453.24V346.99H454.75V339.80H456.26V335.27H457.76V333.25H459.27V333.10H460.78V337.91H462.28V349.42H463.79V360.53H465.30V367.10H466.80V371.43H468.31V376.05H469.82V380.59H471.32V384.35H472.83V387.27H474.34V388.49H475.84V389.24H477.35V389.36H478.86V389.49H480.36V389.61H481.87V389.74H483.38V389.86H484.89V389.99H486.39V390.05H487.90V390.10H489.41V390.16H490.91V390.21H492.42V390.26H493.93V390.32H495.43V390.37H496.94V390.42H498.45V390.47H499.95V390.53H501.46V390.58H502.97V390.63H504.47V390.69H505.98V390.74H507.49V390.79H508.99V390.85H510.50" fill="none" stroke="#000" stroke-width="2.4"/>
</svg>
</body></html>
